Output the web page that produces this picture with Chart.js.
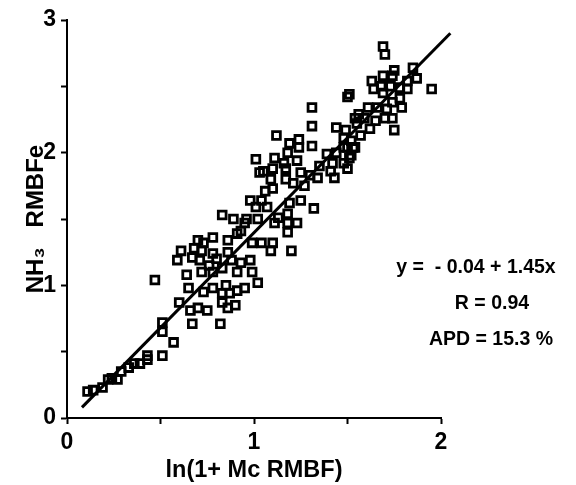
<!DOCTYPE html>
<html>
<head>
<meta charset="utf-8">
<script src="https://cdn.jsdelivr.net/npm/chart.js@4.4.0/dist/chart.umd.min.js"></script>
<style>
  body { margin: 0; background: #fff; }
  #wrap { width: 576px; height: 485px; }
</style>
</head>
<body>
<div id="wrap"><canvas id="scatter"></canvas></div>
<script>
// measured points, ln(1+ Mc RMBF) vs NH3 RMBFe
var xVals = [0.11,0.14,0.19,0.22,0.24,0.27,0.29,0.33,0.36,0.39,0.43,0.43,0.51,0.51,0.51,0.57,0.47,
  0.60,0.66,0.70,0.75,0.67,0.82,0.83,0.86,0.90,0.65,0.73,0.78,0.83,0.87,0.91,0.95,
  0.59,0.67,0.71,0.80,0.61,0.68,0.72,0.78,0.86,0.72,0.78,0.83,0.93,0.98,0.91,0.99,1.02,
  0.70,0.73,0.78,0.86,0.91,0.99,0.83,0.89,0.96,1.02,1.01,0.98,1.01,1.03,
  1.12,1.24,1.19,1.24,1.31,1.31,1.31,1.11,1.18,1.16,1.23,1.05,1.10,1.17,1.25,1.09,1.17,1.10,1.21,1.34,
  1.39,1.44,1.50,1.53,1.42,1.48,1.51,1.43,1.50,1.41,1.32,1.25,1.19,1.07,1.13,1.18,1.18,1.23,1.18,1.11,
  1.44,1.55,1.51,1.50,1.69,1.70,1.85,1.87,1.95,1.63,1.69,1.74,1.68,1.64,1.73,1.78,1.82,
  1.69,1.74,1.79,1.66,1.71,1.61,1.56,1.54,1.59,1.70,1.74,1.62,1.75,1.49,1.52,1.48,1.54,1.48,1.52,1.82,
  1.10,1.09,1.20,1.04,
  0.93,0.95,1.04,1.06,1.27,1.30,1.35,1.57,1.65,1.78,0.76,0.88,0.64,0.85,1.75];
var yVals = [0.20,0.21,0.23,0.29,0.30,0.29,0.35,0.38,0.41,0.41,0.47,0.44,0.47,0.72,0.65,0.57,1.04,
  0.87,0.81,0.83,0.81,0.71,0.71,0.87,0.83,0.85,0.98,0.95,0.98,0.94,0.94,0.96,0.98,
  1.19,1.21,1.19,1.20,1.26,1.28,1.26,1.24,1.25,1.10,1.10,1.13,1.17,1.19,1.10,1.10,1.02,
  1.34,1.32,1.36,1.34,1.39,1.32,1.53,1.50,1.50,1.50,1.59,1.64,1.95,1.85,
  2.13,2.10,2.07,2.04,2.34,2.20,2.05,1.96,2.00,1.92,1.94,1.86,1.88,1.88,1.85,1.80,1.80,1.73,1.77,1.81,
  1.99,2.00,2.04,2.04,1.92,1.92,1.96,1.81,1.88,1.86,1.58,1.64,1.62,1.59,1.51,1.54,1.47,1.47,1.40,1.47,
  2.19,2.22,2.44,2.42,2.80,2.74,2.64,2.56,2.48,2.54,2.58,2.58,2.50,2.48,2.50,2.49,2.48,
  2.45,2.38,2.34,2.34,2.33,2.34,2.29,2.26,2.26,2.26,2.26,2.18,2.17,2.17,2.09,2.11,2.04,2.04,1.98,2.54,
  1.32,1.26,1.26,1.32,
  1.41,1.47,1.64,1.71,1.75,1.83,1.90,2.13,2.24,2.41,1.15,1.19,1.08,1.00,2.62];

// fitted line ends
var fitX = [0.08, 2.05];
var fitY = [0.08, 2.90];

var xTicks = [0, 1, 2];
var yTicks = [0, 1, 2, 3];
var statLines = ['y =  - 0.04 + 1.45x', 'R = 0.94', 'APD = 15.3 %'];

var pts = [];
for (var i in xVals) {
  pts.push({x: xVals[i], y: yVals[i]});
}
var linePts = [];
for (var j in fitX) {
  linePts.push({x: fitX[j], y: fitY[j]});
}

var fontFam = "'Liberation Sans', Arial, Helvetica, sans-serif";

var statsPlugin = {
  id: 'stats',
  afterDraw: function(chart) {
    var ctx = chart.ctx;
    ctx.save();
    ctx.fillStyle = '#000';
    ctx.font = 'bold 19.5px ' + fontFam;
    ctx.textAlign = 'center';
    ctx.textBaseline = 'middle';
    ctx.fillText(statLines[0], 476, 268);
    ctx.fillText(statLines[1], 492, 304);
    ctx.fillText(statLines[2], 491, 340);
    ctx.restore();
  }
};

var ctx = document.getElementById('scatter');
var chart = new Chart(ctx, {
  type: 'scatter',
  data: {
    datasets: [
      {
        type: 'line',
        label: 'fit',
        data: linePts,
        borderColor: '#000',
        borderWidth: 3,
        pointRadius: 0,
        fill: false,
        clip: false,
        order: 0
      },
      {
        label: 'data',
        data: pts,
        pointStyle: 'rect',
        pointRadius: 5.5,
        borderWidth: 2.8,
        borderColor: '#000',
        backgroundColor: 'rgba(255,255,255,0)',
        order: 1
      }
    ]
  },
  options: {
    responsive: true,
    maintainAspectRatio: false,
    animation: false,
    devicePixelRatio: 1,
    layout: { padding: { top: 20, right: 135, left: 0, bottom: 0 } },
    plugins: {
      legend: { display: false },
      tooltip: { enabled: false }
    },
    scales: {
      x: {
        type: 'linear',
        min: 0,
        max: 2,
        afterFit: function(s) { s.height = 67; },
        border: { display: true, color: '#000', width: 2 },
        grid: { drawOnChartArea: false, color: '#000', tickColor: '#000', tickLength: 6, tickWidth: 2 },
        ticks: {
          stepSize: 0.5,
          color: '#000',
          padding: 5,
          maxRotation: 0,
          font: { family: fontFam, size: 23, weight: 'bold' },
          callback: function(v) { return xTicks.indexOf(v) >= 0 ? v : ''; }
        },
        title: {
          display: true,
          text: 'ln(1+ Mc RMBF)',
          color: '#000',
          padding: { top: 9, bottom: 0 },
          font: { family: fontFam, size: 23.5, weight: 'bold' }
        }
      },
      y: {
        type: 'linear',
        min: 0,
        max: 3,
        afterFit: function(s) { s.width = 67; },
        border: { display: true, color: '#000', width: 2 },
        grid: { drawOnChartArea: false, color: '#000', tickColor: '#000', tickLength: 6, tickWidth: 2 },
        ticks: {
          stepSize: 0.5,
          color: '#000',
          padding: 5,
          font: { family: fontFam, size: 23, weight: 'bold' },
          callback: function(v) { return yTicks.indexOf(v) >= 0 ? v : ''; }
        },
        title: {
          display: true,
          text: 'NH\u2083   RMBFe',
          color: '#000',
          padding: { top: 22, bottom: 0 },
          font: { family: fontFam, size: 24, weight: 'bold' }
        }
      }
    }
  },
  plugins: [statsPlugin]
});
</script>
</body>
</html>
